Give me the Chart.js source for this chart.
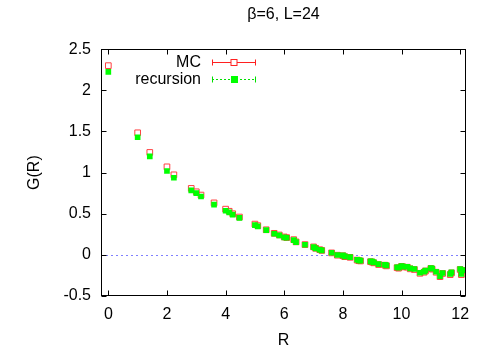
<!DOCTYPE html>
<html>
<head>
<meta charset="utf-8">
<script src="https://cdn.jsdelivr.net/npm/chart.js@4.4.1/dist/chart.umd.min.js"></script>
<style>
  html, body { margin: 0; padding: 0; background: #fff; }
  #wrap { width: 500px; height: 350px; }
</style>
</head>
<body>
<div id="wrap"><canvas id="chart" width="500" height="350"></canvas></div>
<script>
// distances R on the lattice
const radii = [0, 1, 1.414, 2, 2.236, 2.828, 3, 3.162, 3.606, 4, 4.123, 4.243, 4.472, 5, 5.099, 5.385,
  5.657, 5.831, 6, 6.083, 6.325, 6.403, 6.708, 7, 7.071, 7.211, 7.280, 7.616, 7.810, 8, 8.062, 8.246,
  8.485, 8.544, 8.602, 8.944, 9, 9.055, 9.220, 9.434, 9.487, 9.849, 9.899, 10, 10.050, 10.198, 10.296,
  10.440, 10.630, 10.770, 10.817, 11, 11.045, 11.180, 11.314, 11.402, 11.662, 11.705, 12, 12.042, 12.166];

// G(R) from the recursion
const recursionG = [2.225, 1.43, 1.197, 1.02, 0.937, 0.784, 0.75, 0.71, 0.61, 0.536, 0.516, 0.49, 0.45,
  0.362, 0.346, 0.30, 0.257, 0.237, 0.213, 0.208, 0.18, 0.155, 0.123, 0.095, 0.079, 0.062, 0.055, 0.026,
  -0.002, -0.006, -0.018, -0.027, -0.059, -0.067, -0.07, -0.079, -0.083, -0.092, -0.112, -0.12, -0.128,
  -0.15, -0.156, -0.136, -0.142, -0.144, -0.165, -0.172, -0.217, -0.205, -0.19, -0.16, -0.168, -0.205,
  -0.258, -0.22, -0.233, -0.213, -0.172, -0.233, -0.185];

// G(R) from Monte Carlo
const mcG = [2.30, 1.484, 1.245, 1.07, 0.973, 0.808, 0.767, 0.727, 0.632, 0.556, 0.53, 0.50, 0.46,
  0.374, 0.355, 0.305, 0.262, 0.242, 0.218, 0.21, 0.185, 0.158, 0.125, 0.097, 0.08, 0.063, 0.054, 0.024,
  -0.004, -0.01, -0.022, -0.03, -0.063, -0.071, -0.074, -0.083, -0.088, -0.097, -0.118, -0.125, -0.134,
  -0.156, -0.162, -0.14, -0.147, -0.15, -0.17, -0.178, -0.224, -0.211, -0.196, -0.165, -0.174, -0.211,
  -0.265, -0.226, -0.24, -0.219, -0.178, -0.24, -0.19];

const xTicks = [0, 2, 4, 6, 8, 10, 12];
const xTickLabels = ['0', '2', '4', '6', '8', '10', '12'];
const yTicks = [-0.5, 0, 0.5, 1, 1.5, 2, 2.5];
const yTickLabels = ['-0.5', '0', '0.5', '1', '1.5', '2', '2.5'];

const FONT = '"Liberation Sans", Arial, Helvetica, sans-serif';
Chart.defaults.font.family = FONT;
Chart.defaults.color = '#000';

// zero line, box, inward ticks and the gnuplot style key
const gnuplotLook = {
  id: 'gnuplotLook',
  beforeDatasetsDraw(chart) {
    const { ctx, chartArea: a, scales } = chart;
    const y0 = Math.round(scales.y.getPixelForValue(0)) + 0.5;
    ctx.save();
    ctx.strokeStyle = '#7f7fff';
    ctx.lineWidth = 1;
    ctx.setLineDash([2, 3]);
    ctx.beginPath();
    ctx.moveTo(a.left, y0);
    ctx.lineTo(a.right, y0);
    ctx.stroke();
    ctx.restore();
  },
  afterDatasetsDraw(chart) {
    const { ctx, chartArea: a, scales } = chart;
    const L = Math.round(a.left) + 0.5, R = Math.round(a.right) - 0.5;
    const T = Math.round(a.top) + 0.5, B = Math.round(a.bottom) - 0.5;
    ctx.save();
    ctx.strokeStyle = '#000';
    ctx.lineWidth = 1;
    ctx.strokeRect(L, T, R - L, B - T);
    ctx.beginPath();
    xTicks.forEach(v => {
      const px = Math.round(scales.x.getPixelForValue(v)) + 0.5;
      ctx.moveTo(px, B); ctx.lineTo(px, B - 5);
      ctx.moveTo(px, T); ctx.lineTo(px, T + 5);
    });
    yTicks.forEach(v => {
      const py = Math.round(scales.y.getPixelForValue(v)) + 0.5;
      ctx.moveTo(L, py); ctx.lineTo(L + 5, py);
      ctx.moveTo(R, py); ctx.lineTo(R - 5, py);
    });
    ctx.stroke();
    ctx.restore();
  },
  afterDraw(chart) {
    const ctx = chart.ctx;
    const rows = [
      { text: 'MC', y: 62.5, color: '#ff2020', dash: [], open: true },
      { text: 'recursion', y: 79.5, color: '#00e000', dash: [2, 2], open: false }
    ];
    ctx.save();
    ctx.font = '16px ' + FONT;
    ctx.textAlign = 'right';
    ctx.textBaseline = 'middle';
    rows.forEach(r => {
      ctx.fillStyle = '#000';
      ctx.fillText(r.text, 201, r.y);
      ctx.strokeStyle = r.color;
      ctx.lineWidth = 1;
      ctx.setLineDash(r.dash);
      ctx.beginPath();
      ctx.moveTo(212, r.y); ctx.lineTo(256, r.y);
      ctx.stroke();
      ctx.setLineDash([]);
      ctx.beginPath();
      ctx.moveTo(212.5, r.y - 3); ctx.lineTo(212.5, r.y + 3);
      ctx.moveTo(255.5, r.y - 3); ctx.lineTo(255.5, r.y + 3);
      ctx.stroke();
      if (r.open) {
        ctx.fillStyle = '#fff';
        ctx.fillRect(231, r.y - 3, 6, 6);
        ctx.strokeRect(231, r.y - 3, 6, 6);
      } else {
        ctx.fillStyle = '#00ff00';
        ctx.fillRect(231, r.y - 3.5, 7, 7);
      }
    });
    ctx.restore();
  }
};

new Chart(document.getElementById('chart'), {
  type: 'scatter',
  data: {
    datasets: [
      {
        label: 'MC',
        data: radii.map((r, i) => ({ x: r, y: mcG[i] })),
        pointStyle: 'rect',
        pointRadius: 4,
        backgroundColor: 'rgba(255,255,255,0)',
        borderColor: '#ff4040',
        borderWidth: 1,
        order: 1
      },
      {
        label: 'recursion',
        data: radii.map((r, i) => ({ x: r, y: recursionG[i] })),
        pointStyle: 'rect',
        pointRadius: 4,
        backgroundColor: '#00ff00',
        borderColor: '#00ee00',
        borderWidth: 0,
        order: 0
      }
    ]
  },
  options: {
    responsive: false,
    animation: false,
    events: [],
    layout: { padding: { top: 0, right: 34, bottom: 0, left: 0 } },
    plugins: {
      legend: { display: false },
      tooltip: { enabled: false },
      title: {
        display: true,
        text: 'β=6, L=24',
        fullSize: false,
        color: '#000',
        font: { size: 16, weight: 'normal' },
        padding: { top: 5, bottom: 25 }
      }
    },
    scales: {
      x: {
        type: 'linear',
        min: -0.25,
        max: 12.2,
        afterBuildTicks: s => { s.ticks = xTicks.map(v => ({ value: v })); },
        afterFit: s => { s.height = 54; },
        grid: { display: false, drawTicks: false },
        border: { display: false },
        ticks: {
          font: { size: 16 },
          color: '#000',
          padding: 9,
          maxRotation: 0,
          autoSkip: false,
          callback: v => xTickLabels[xTicks.indexOf(v)]
        },
        title: { display: true, text: 'R', font: { size: 16 }, color: '#000', padding: { top: 0, bottom: 0 } }
      },
      y: {
        type: 'linear',
        min: -0.5,
        max: 2.5,
        afterBuildTicks: s => { s.ticks = yTicks.map(v => ({ value: v })); },
        afterFit: s => { s.width = 101; },
        grid: { display: false, drawTicks: false },
        border: { display: false },
        ticks: {
          font: { size: 16 },
          color: '#000',
          padding: 10,
          autoSkip: false,
          callback: v => yTickLabels[yTicks.indexOf(v)]
        },
        title: { display: true, text: 'G(R)', font: { size: 16 }, color: '#000', padding: { top: 25, bottom: 0 } }
      }
    }
  },
  plugins: [gnuplotLook]
});
</script>
</body>
</html>
